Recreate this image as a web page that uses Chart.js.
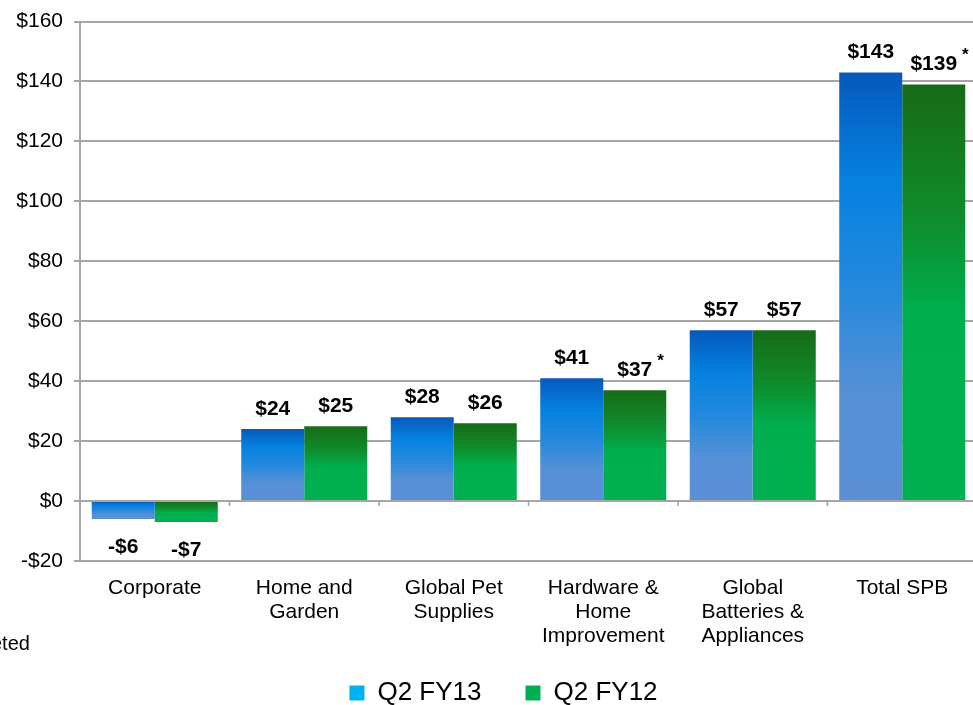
<!DOCTYPE html>
<html>
<head>
<meta charset="utf-8">
<script src="https://cdn.jsdelivr.net/npm/chart.js@4.4.1/dist/chart.umd.min.js"></script>
<style>
  html, body { margin: 0; padding: 0; background: #fff; overflow: hidden; width: 973px; height: 705px; }
  #wrap { position: absolute; left: 0; top: 0; width: 1007px; height: 716px; }
  #note { position: absolute; left: -9px; top: 632px; font: 20px "Liberation Sans", Arial, sans-serif; color: #000; }
</style>
</head>
<body>
<div id="wrap"><canvas id="chart"></canvas></div>
<div id="note">eted</div>
<script>
// data
const categories = [
    ['Corporate'],
    ['Home and', 'Garden'],
    ['Global Pet', 'Supplies'],
    ['Hardware &', 'Home', 'Improvement'],
    ['Global', 'Batteries &', 'Appliances'],
    ['Total SPB']
];
const seriesNames = ['Q2 FY13', 'Q2 FY12'];
const fy13 = [-6, 24, 28, 41, 57, 143];
const fy12 = [-7, 25, 26, 37, 57, 139];
const fy12Marks = ['', '', '', '*', '', '*'];
const yMin = -20, yMax = 160, yStep = 20;

const legendColors = ['#00b0f0', '#00b050'];
const blueStops = [[0, '#0559bb'], [0.25, '#0581e0'], [0.5, '#2389dd'], [0.75, '#5690d6'], [1, '#5b8fd6']];
const greenStops = [[0, '#176b17'], [0.3, '#108a2a'], [0.55, '#00ae4e'], [1, '#00b050']];

const FONT = '"Liberation Sans", Arial, sans-serif';

function barGradient(stops, fallback) {
    return ctx => {
        const chart = ctx.chart;
        if (ctx.type !== 'data' || !chart.chartArea || !chart.scales.y) return fallback;
        const y = chart.scales.y;
        const v = ctx.raw;
        const top = y.getPixelForValue(Math.max(v, 0));
        const bot = y.getPixelForValue(Math.min(v, 0));
        if (!isFinite(top) || !isFinite(bot) || bot - top < 1) return fallback;
        const g = chart.ctx.createLinearGradient(0, top, 0, bot);
        stops.forEach(s => g.addColorStop(s[0], s[1]));
        return g;
    };
}

// valeurs au-dessus / en dessous des barres
const valueLabels = {
    id: 'valueLabels',
    afterDatasetsDraw(chart) {
        const c = chart.ctx;
        c.save();
        c.fillStyle = '#000';
        c.textAlign = 'center';
        chart.data.datasets.forEach((ds, di) => {
            chart.getDatasetMeta(di).data.forEach((bar, i) => {
                const v = ds.data[i];
                const txt = (v < 0 ? '-$' : '$') + Math.abs(v);
                c.font = 'bold 21px ' + FONT;
                const y = v < 0 ? bar.y + 28 : bar.y - 20;
                c.fillText(txt, bar.x, y);
                const mark = ds.marks ? ds.marks[i] : '';
                if (mark) {
                    const w = c.measureText(txt).width;
                    c.font = 'bold 17px ' + FONT;
                    c.textAlign = 'left';
                    c.fillText(mark, bar.x + w / 2 + 5, y - 9);
                    c.textAlign = 'center';
                }
            });
        });
        c.restore();
    }
};

// petits repères sur la ligne zéro entre les catégories
const zeroTicks = {
    id: 'zeroTicks',
    afterDraw(chart) {
        const x = chart.scales.x, y = chart.scales.y;
        const y0 = y.getPixelForValue(0);
        const c = chart.ctx;
        c.save();
        c.strokeStyle = '#a0a0a0';
        c.lineWidth = 1.5;
        for (let i = 1; i < categories.length; i++) {
            const bx = (x.getPixelForTick(i - 1) + x.getPixelForTick(i)) / 2;
            c.beginPath();
            c.moveTo(bx, y0);
            c.lineTo(bx, y0 + 5);
            c.stroke();
        }
        c.restore();
    }
};

new Chart(document.getElementById('chart'), {
    type: 'bar',
    data: {
        labels: categories,
        datasets: [
            { label: seriesNames[0], data: fy13, backgroundColor: barGradient(blueStops, '#0581e0') },
            { label: seriesNames[1], data: fy12, marks: fy12Marks, backgroundColor: barGradient(greenStops, '#108a2a') }
        ]
    },
    options: {
        responsive: true,
        maintainAspectRatio: false,
        animation: false,
        categoryPercentage: 0.843,
        barPercentage: 1.0,
        layout: { padding: { top: 13, left: 0, right: 0, bottom: 0 } },
        plugins: {
            tooltip: { enabled: false },
            legend: {
                position: 'bottom',
                labels: {
                    font: { family: FONT, size: 26 },
                    color: '#000',
                    boxWidth: 15,
                    boxHeight: 15,
                    padding: 31,
                    // espace supplémentaire après la première entrée
                    generateLabels: chart => seriesNames.map((n, i) => ({
                        text: i === 0 ? n + '\u2002' : n,
                        fillStyle: legendColors[i], strokeStyle: legendColors[i],
                        lineWidth: 0, datasetIndex: i, hidden: false
                    }))
                }
            }
        },
        scales: {
            x: {
                grid: { display: false, drawTicks: false },
                border: { display: false },
                ticks: { font: { family: FONT, size: 21, lineHeight: 24 / 21 }, color: '#000', padding: 15, maxRotation: 0, autoSkip: false },
                afterFit: s => { s.height = 88; }
            },
            y: {
                min: yMin,
                max: yMax,
                grid: { color: '#a6a6a6', lineWidth: 2, tickLength: 6 },
                border: { color: '#a6a6a6', width: 2 },
                ticks: {
                    stepSize: yStep,
                    font: { family: FONT, size: 21, lineHeight: 1 },
                    color: '#000',
                    padding: 11,
                    callback: v => (v < 0 ? '-$' : '$') + Math.abs(v)
                },
                afterFit: s => { s.width = 80; }
            },
            // espace vide à droite (le graphique est coupé au bord)
            pad: {
                type: 'linear',
                position: 'right',
                grid: { display: false },
                border: { display: false },
                ticks: { display: false },
                afterFit: s => { s.width = 30; }
            }
        }
    },
    plugins: [valueLabels, zeroTicks]
});
</script>
</body>
</html>
